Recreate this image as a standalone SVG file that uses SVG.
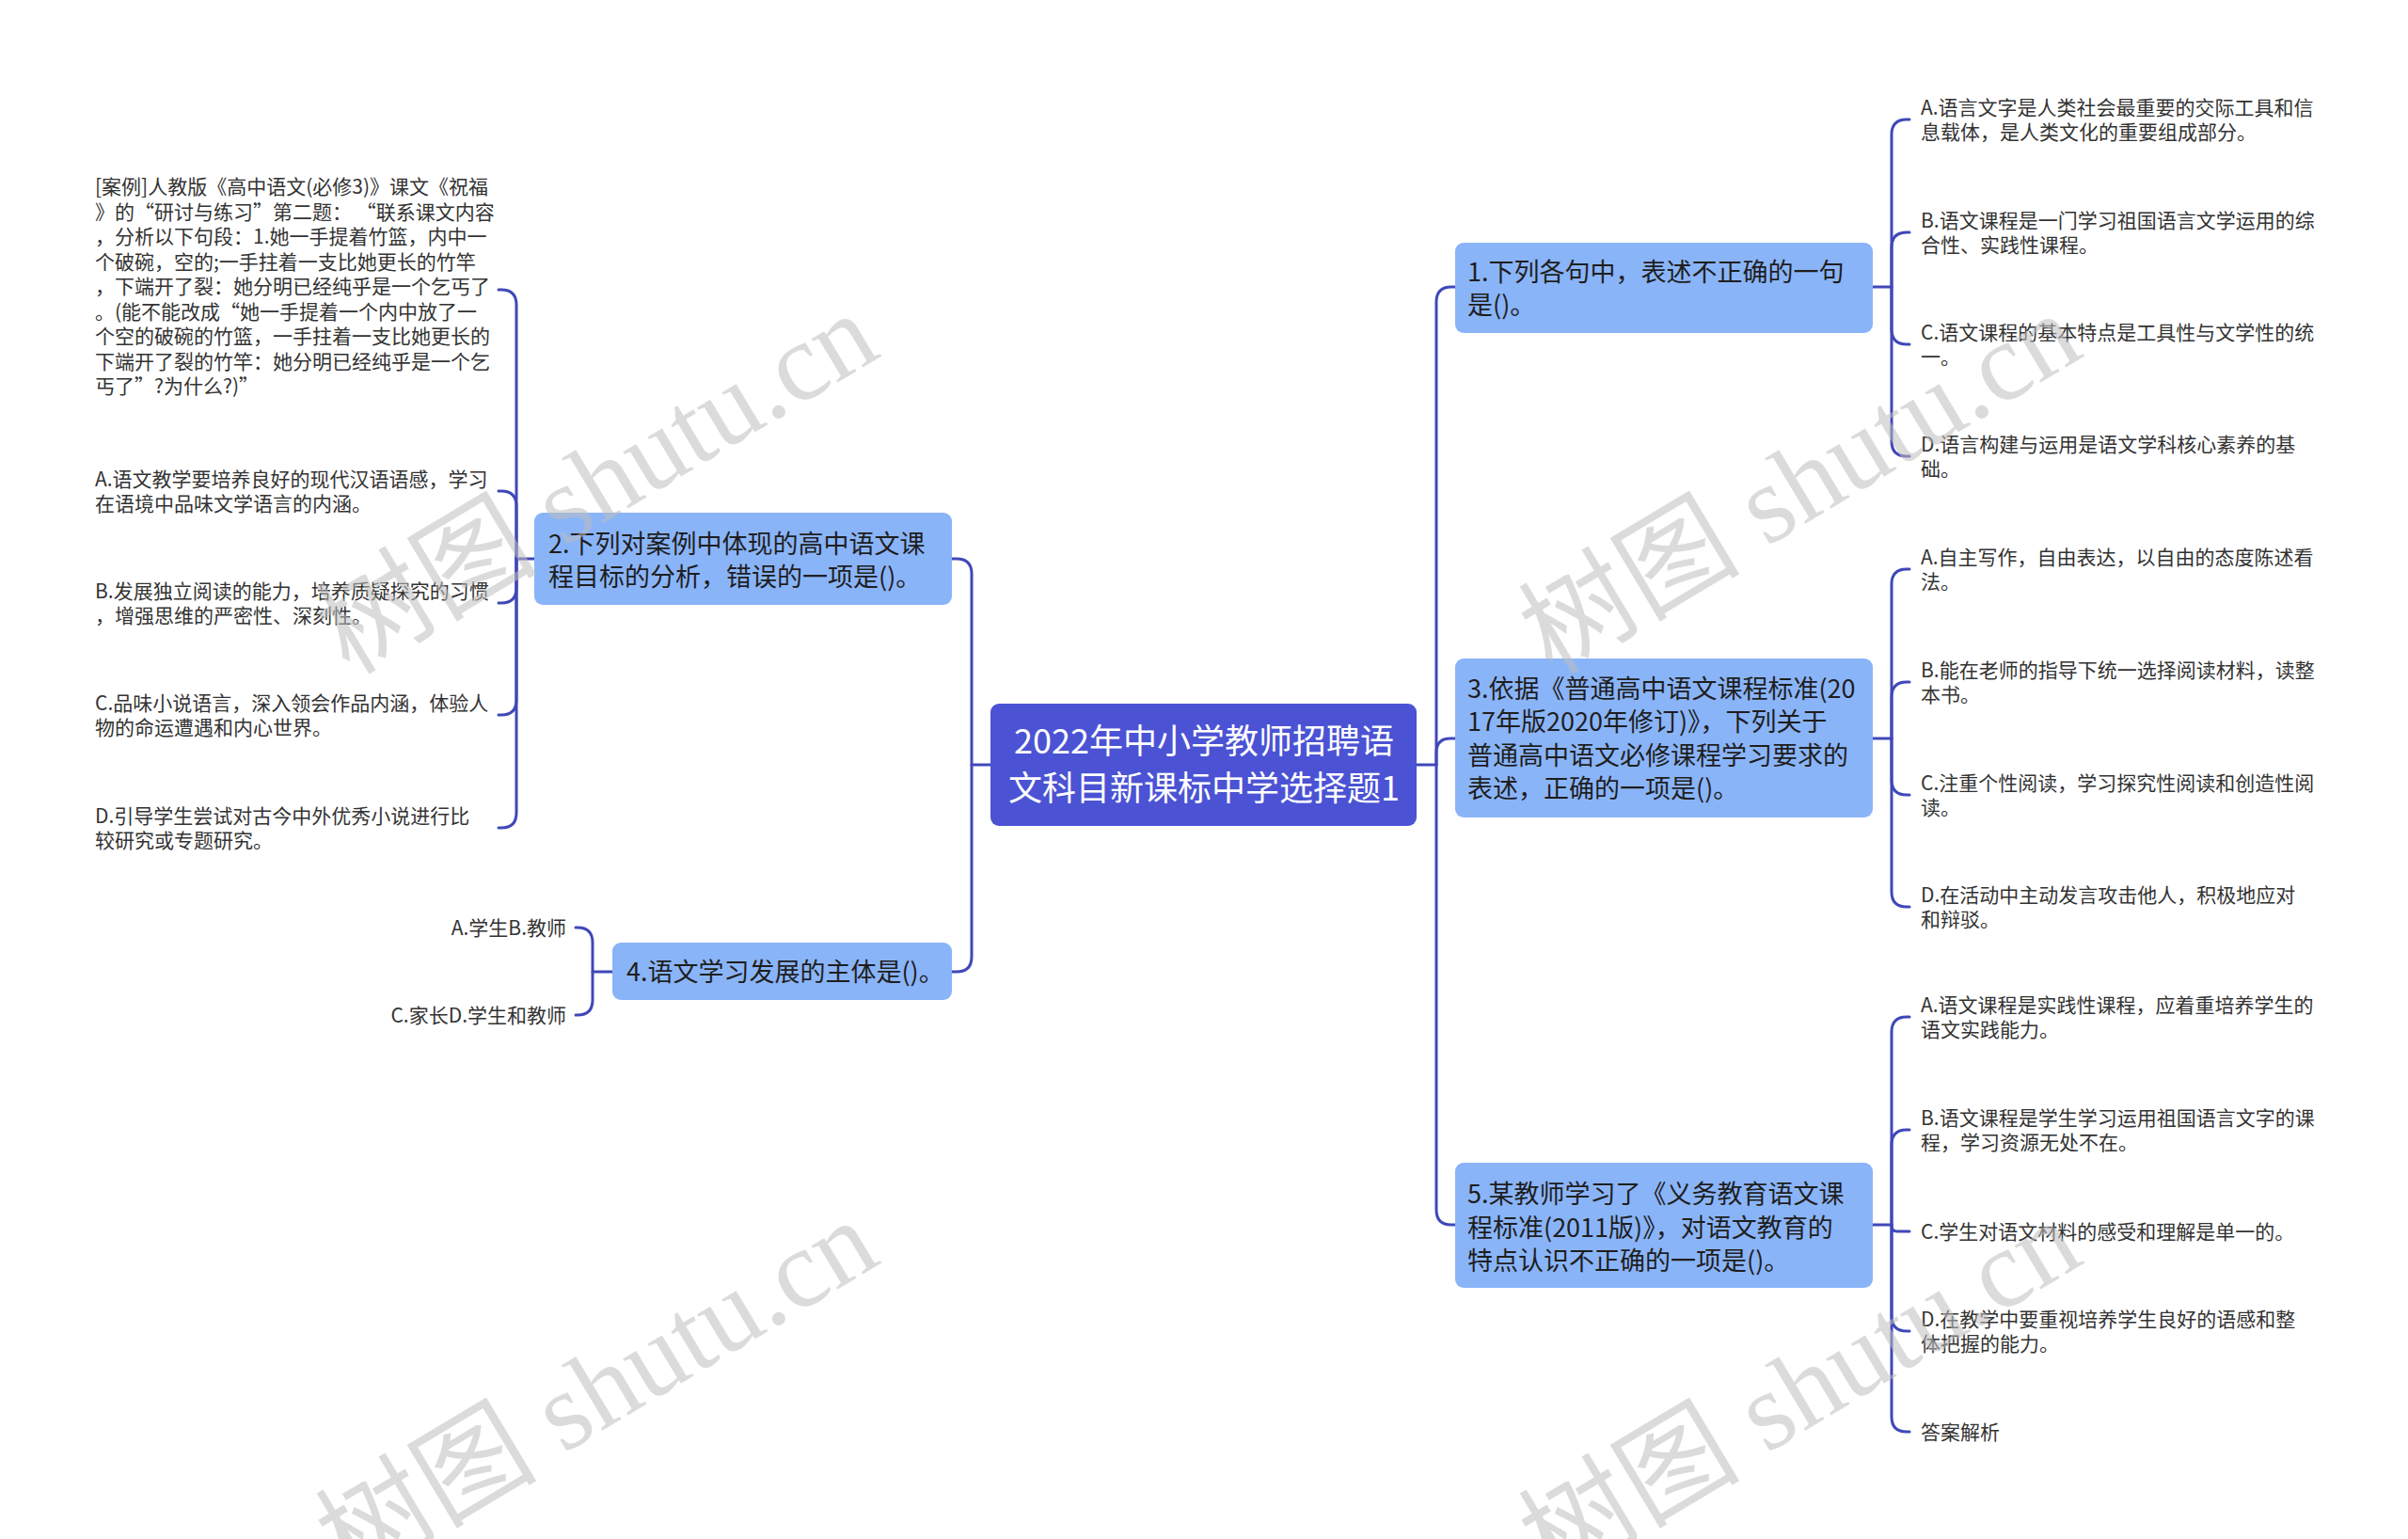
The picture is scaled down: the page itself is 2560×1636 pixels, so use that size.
<svg xmlns="http://www.w3.org/2000/svg" width="2560" height="1636" viewBox="0 0 2560 1636">
<style>
.bg{fill:#ffffff}
.root rect{fill:#4b53d4}
.root text{fill:#ffffff;font-family:"Noto Sans CJK SC","Noto Sans",sans-serif;font-size:36px;text-anchor:middle}
.l1 rect{fill:#8ab4f8}
.l1 text{fill:#1e1e1e;font-family:"Noto Sans CJK SC","Noto Sans",sans-serif;font-size:27px}
.leaf text{fill:#333333;font-family:"Noto Sans CJK SC","Noto Sans",sans-serif;font-size:21px}
.leaf text.r{text-anchor:end}
.conn path{fill:none;stroke:#4048b8;stroke-width:3;stroke-linecap:round;stroke-linejoin:round}
.wm text{fill:#bdbdbd;fill-opacity:0.55;font-family:"Liberation Serif","Noto Sans CJK SC",serif;font-size:118px;text-anchor:middle}
</style>
<rect class="bg" x="0" y="0" width="2560" height="1636"/>

<g id="connectors" class="conn">
  <path d="M1506 813 H1527 V321 Q1527 305 1543 305 H1547"/>
  <path d="M1527 813 V800 Q1527 785 1542 785 H1547"/>
  <path d="M1527 813 V1286 Q1527 1302 1543 1302 H1547"/>
  <path d="M1053 813 H1033 V610 Q1033 594 1017 594 H1012"/>
  <path d="M1033 813 V1017 Q1033 1033 1017 1033 H1012"/>
  <path d="M1991 305 H2011 V143 Q2011 127 2027 127 H2030"/>
  <path d="M2011 305 V263 Q2011 247 2027 247 H2030"/>
  <path d="M2011 305 V350 Q2011 366 2027 366 H2030"/>
  <path d="M2011 305 V469 Q2011 485 2027 485 H2030"/>
  <path d="M1991 785 H2011 V621 Q2011 605 2027 605 H2030"/>
  <path d="M2011 785 V741 Q2011 725 2027 725 H2030"/>
  <path d="M2011 785 V829 Q2011 845 2027 845 H2030"/>
  <path d="M2011 785 V948 Q2011 964 2027 964 H2030"/>
  <path d="M1991 1302 H2011 V1097 Q2011 1081 2027 1081 H2030"/>
  <path d="M2011 1302 V1217 Q2011 1201 2027 1201 H2030"/>
  <path d="M2011 1302 V1303 Q2011 1309 2017 1309 H2030"/>
  <path d="M2011 1302 V1399 Q2011 1415 2027 1415 H2030"/>
  <path d="M2011 1302 V1506 Q2011 1522 2027 1522 H2030"/>
  <path d="M568 594 H549 V324 Q549 308 533 308 H530"/>
  <path d="M549 594 V538 Q549 522 533 522 H530"/>
  <path d="M549 594 V625 Q549 641 533 641 H530"/>
  <path d="M549 594 V744 Q549 760 533 760 H530"/>
  <path d="M549 594 V864 Q549 880 533 880 H530"/>
  <path d="M651 1033 H630 V1002 Q630 986 614 986 H612"/>
  <path d="M630 1033 V1063 Q630 1079 614 1079 H612"/>
</g>

<g id="root" class="root">
  <rect x="1053" y="748" width="453" height="130" rx="9"/>
  <text x="1280" y="801">2022年中小学教师招聘语</text>
  <text x="1280" y="851">文科目新课标中学选择题1</text>
</g>

<g id="n1" class="l1">
  <rect x="1547" y="258" width="444" height="96" rx="9"/>
  <text x="1560" y="299">1.下列各句中，表述不正确的一句</text>
  <text x="1560" y="334">是()。</text>
</g>
<g id="n2" class="l1">
  <rect x="568" y="545" width="444" height="98" rx="9"/>
  <text x="583" y="588">2.下列对案例中体现的高中语文课</text>
  <text x="583" y="623">程目标的分析，错误的一项是()。</text>
</g>
<g id="n3" class="l1">
  <rect x="1547" y="700" width="444" height="169" rx="9"/>
  <text x="1560" y="742">3.依据《普通高中语文课程标准(20</text>
  <text x="1560" y="777">17年版2020年修订)》，下列关于</text>
  <text x="1560" y="813">普通高中语文必修课程学习要求的</text>
  <text x="1560" y="848">表述，正确的一项是()。</text>
</g>
<g id="n4" class="l1">
  <rect x="651" y="1002" width="361" height="61" rx="9"/>
  <text x="666" y="1043">4.语文学习发展的主体是()。</text>
</g>
<g id="n5" class="l1">
  <rect x="1547" y="1236" width="444" height="133" rx="9"/>
  <text x="1560" y="1279">5.某教师学习了《义务教育语文课</text>
  <text x="1560" y="1315">程标准(2011版)》，对语文教育的</text>
  <text x="1560" y="1350">特点认识不正确的一项是()。</text>
</g>

<g id="n1a" class="leaf"><text x="2042" y="122">A.语言文字是人类社会最重要的交际工具和信</text><text x="2042" y="148">息载体，是人类文化的重要组成部分。</text></g>
<g id="n1b" class="leaf"><text x="2042" y="242">B.语文课程是一门学习祖国语言文学运用的综</text><text x="2042" y="268">合性、实践性课程。</text></g>
<g id="n1c" class="leaf"><text x="2042" y="361">C.语文课程的基本特点是工具性与文学性的统</text><text x="2042" y="387">一。</text></g>
<g id="n1d" class="leaf"><text x="2042" y="480">D.语言构建与运用是语文学科核心素养的基</text><text x="2042" y="506">础。</text></g>

<g id="n3a" class="leaf"><text x="2042" y="600">A.自主写作，自由表达，以自由的态度陈述看</text><text x="2042" y="626">法。</text></g>
<g id="n3b" class="leaf"><text x="2042" y="720">B.能在老师的指导下统一选择阅读材料，读整</text><text x="2042" y="746">本书。</text></g>
<g id="n3c" class="leaf"><text x="2042" y="840">C.注重个性阅读，学习探究性阅读和创造性阅</text><text x="2042" y="866">读。</text></g>
<g id="n3d" class="leaf"><text x="2042" y="959">D.在活动中主动发言攻击他人，积极地应对</text><text x="2042" y="985">和辩驳。</text></g>

<g id="n5a" class="leaf"><text x="2042" y="1076">A.语文课程是实践性课程，应着重培养学生的</text><text x="2042" y="1102">语文实践能力。</text></g>
<g id="n5b" class="leaf"><text x="2042" y="1196">B.语文课程是学生学习运用祖国语言文字的课</text><text x="2042" y="1222">程，学习资源无处不在。</text></g>
<g id="n5c" class="leaf"><text x="2042" y="1317">C.学生对语文材料的感受和理解是单一的。</text></g>
<g id="n5d" class="leaf"><text x="2042" y="1410">D.在教学中要重视培养学生良好的语感和整</text><text x="2042" y="1436">体把握的能力。</text></g>
<g id="n5e" class="leaf"><text x="2042" y="1530">答案解析</text></g>

<g id="n2case" class="leaf">
  <text x="101" y="206">[案例]人教版《高中语文(必修3)》课文《祝福</text>
  <text x="101" y="232.5">》的“研讨与练习”第二题： “联系课文内容</text>
  <text x="101" y="259">，分析以下句段：1.她一手提着竹篮，内中一</text>
  <text x="101" y="285.5">个破碗，空的;一手拄着一支比她更长的竹竿</text>
  <text x="101" y="312">，下端开了裂：她分明已经纯乎是一个乞丐了</text>
  <text x="101" y="338.5">。(能不能改成“她一手提着一个内中放了一</text>
  <text x="101" y="365">个空的破碗的竹篮，一手拄着一支比她更长的</text>
  <text x="101" y="391.5">下端开了裂的竹竿：她分明已经纯乎是一个乞</text>
  <text x="101" y="418">丐了”?为什么?)”</text>
</g>
<g id="n2a" class="leaf"><text x="101" y="517">A.语文教学要培养良好的现代汉语语感，学习</text><text x="101" y="543">在语境中品味文学语言的内涵。</text></g>
<g id="n2b" class="leaf"><text x="101" y="636">B.发展独立阅读的能力，培养质疑探究的习惯</text><text x="101" y="662">，增强思维的严密性、深刻性。</text></g>
<g id="n2c" class="leaf"><text x="101" y="755">C.品味小说语言，深入领会作品内涵，体验人</text><text x="101" y="781">物的命运遭遇和内心世界。</text></g>
<g id="n2d" class="leaf"><text x="101" y="875">D.引导学生尝试对古今中外优秀小说进行比</text><text x="101" y="901">较研究或专题研究。</text></g>

<g id="n4a" class="leaf"><text class="r" x="602" y="994">A.学生B.教师</text></g>
<g id="n4b" class="leaf"><text class="r" x="602" y="1087">C.家长D.学生和教师</text></g>

<g id="watermarks" class="wm">
  <text transform="translate(655 548) rotate(-31)">树图 shutu.cn</text>
  <text transform="translate(1934 548) rotate(-31)">树图 shutu.cn</text>
  <text transform="translate(655 1512) rotate(-31)">树图 shutu.cn</text>
  <text transform="translate(1934 1512) rotate(-31)">树图 shutu.cn</text>
</g>
</svg>
